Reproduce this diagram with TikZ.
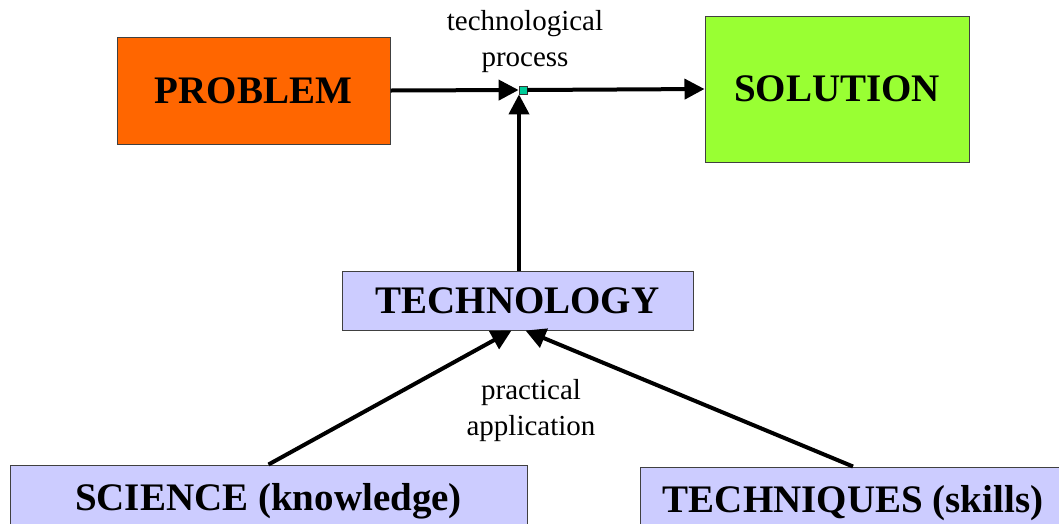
\documentclass[tikz,border=0pt]{standalone}
\usepackage{fontspec}
\setmainfont{Liberation Serif}
\usetikzlibrary{arrows.meta}
\definecolor{probcol}{HTML}{FF6600}
\definecolor{solcol}{HTML}{99FF33}
\definecolor{techcol}{HTML}{CCCCFF}
\definecolor{jointcol}{HTML}{00CC99}
\begin{document}
\begin{tikzpicture}[x=1pt,y=-1pt,
		box/.style={draw=black!75,line width=1pt,inner sep=0pt,font=\fontsize{39}{45}\selectfont\bfseries},
		lbl/.style={align=center,font=\fontsize{29}{36}\selectfont},
		arr/.style={line width=4pt,-{Triangle[length=20pt,width=20pt]}}]
				\clip (0,0) rectangle (1059,523);
				\node[box,fill=probcol,minimum width=273,minimum height=107] (prob) at (253.5,90.5) {PROBLEM};
				\node[box,fill=solcol,minimum width=264,minimum height=146] (sol) at (837,89) {SOLUTION};
				\node[box,fill=techcol,minimum width=351,minimum height=59] (tech) at (517.5,300.5) {TECHNOLOGY};
				\node[box,fill=techcol,minimum width=517,minimum height=72] (sci) at (268.5,501) {SCIENCE (knowledge)};
				\node[box,fill=techcol,minimum width=426,minimum height=72] (skill) at (853,503) {TECHNIQUES (skills)};
				\node[draw=black!80,fill=jointcol,line width=0.8pt,minimum size=8,inner sep=0pt] (joint) at (523,90) {};
				\node[lbl] (proc) at (525,42) {technological\\process};
				\node[lbl] (appl) at (531,411) {practical\\application};
				\draw[arr] (prob.east)--(joint.west);
				\draw[arr] (joint.east)--(sol.west);
				\draw[arr] ([xshift=-4]tech.north -| joint)--([xshift=-4]joint.south);
				\draw[arr] (sci.north)--([xshift=-6]tech.south);
				\draw[arr] (skill.north)--([xshift=8]tech.south);
		\end{tikzpicture}
\end{document}
